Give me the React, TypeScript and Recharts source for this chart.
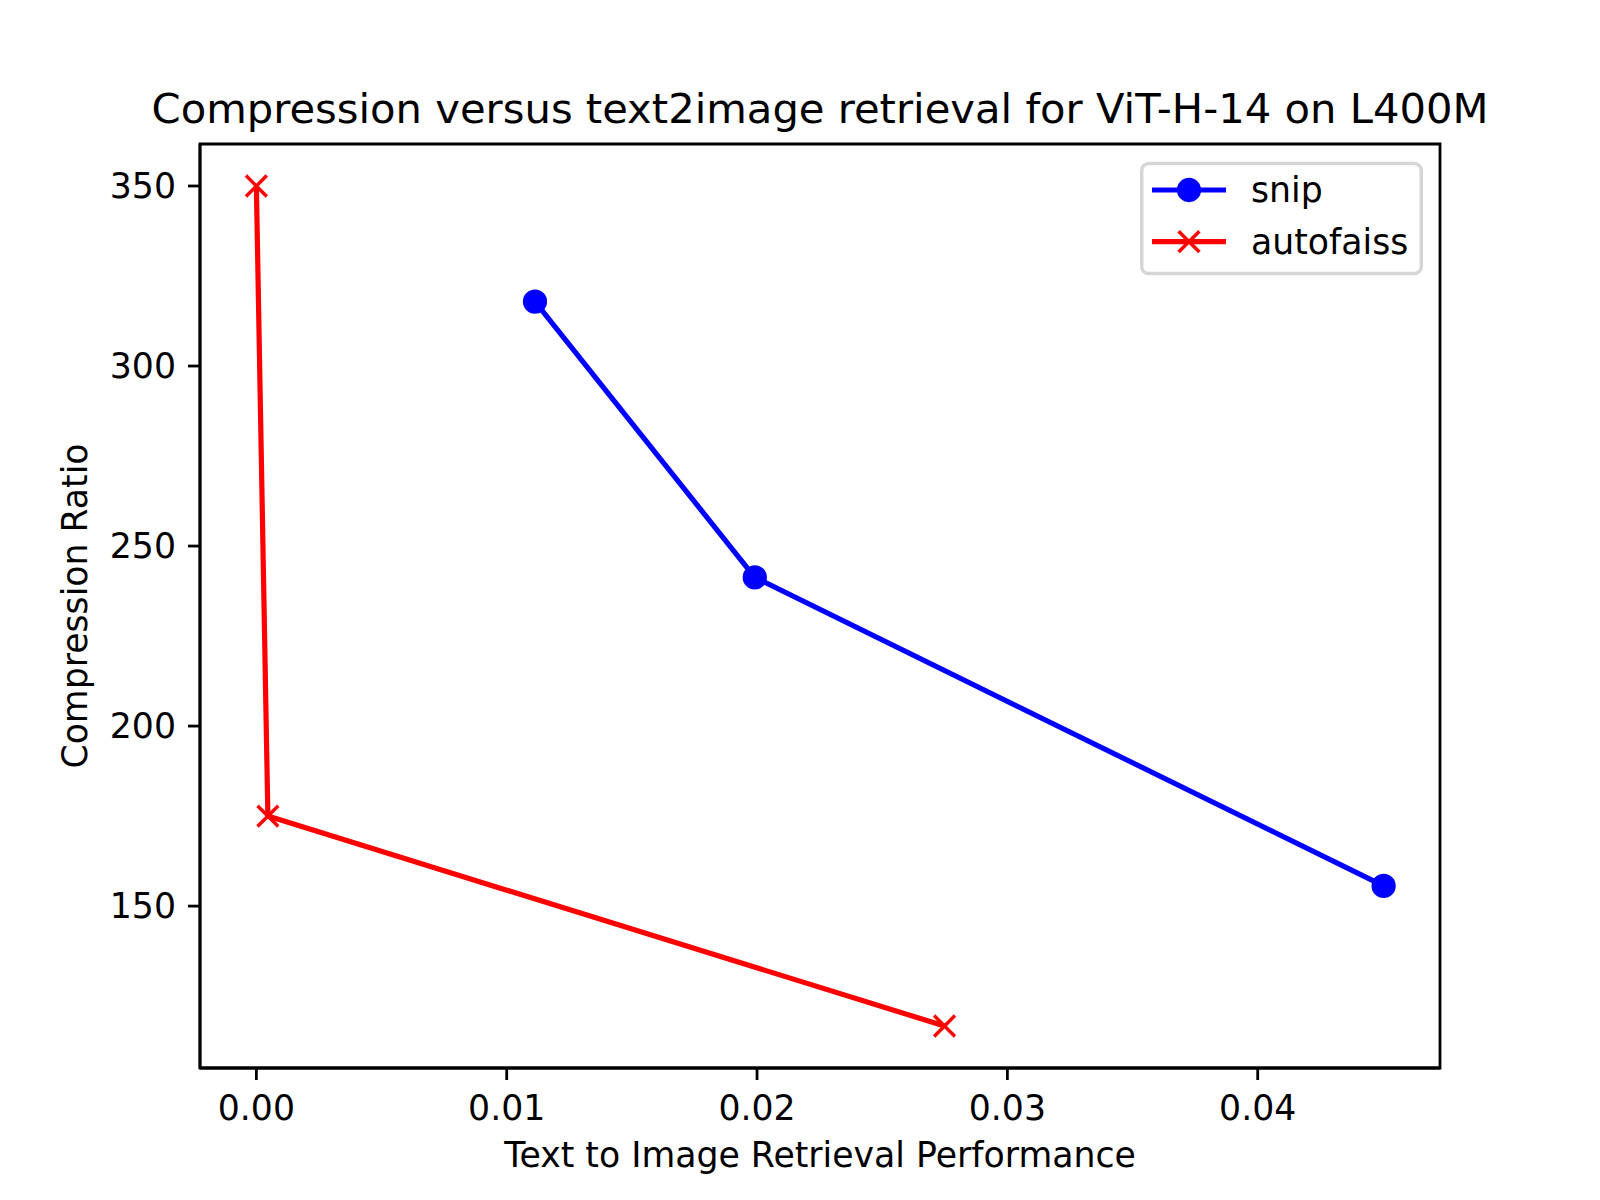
import React from 'react';
import { ScatterChart, Scatter, XAxis, YAxis, ReferenceArea } from 'recharts';

// values
const snipX = [0.01113, 0.01991, 0.04503];
const snipY = [317.9, 241.3, 155.6];
const autofaissX = [0.0, 0.00046, 0.02749];
const autofaissY = [350, 175, 116.7];

const xTicks = [0, 0.01, 0.02, 0.03, 0.04];
const yTicks = [150, 200, 250, 300, 350];

const FONT = '"DejaVu Sans", sans-serif';
const BLUE = '#0000ff';
const RED = '#ff0000';

const snipData = snipX.map((x, i) => ({ x, y: snipY[i] }));
const autofaissData = autofaissX.map((x, i) => ({ x, y: autofaissY[i] }));

// matplotlib style 5% auto margins
const pad = (vals: number[]) => {
  const lo = Math.min(...vals);
  const hi = Math.max(...vals);
  const m = (hi - lo) * 0.05;
  return [lo - m, hi + m] as [number, number];
};
const xDomain = pad([...snipX, ...autofaissX]);
const yDomain = pad([...snipY, ...autofaissY]);

const Dot = (props: any) => {
  const { cx, cy } = props;
  if (cx == null || cy == null) return null;
  return <circle cx={cx} cy={cy} r={10.4} fill={BLUE} stroke={BLUE} strokeWidth={3.47} />;
};

const Cross = (props: any) => {
  const { cx, cy } = props;
  if (cx == null || cy == null) return null;
  const s = 10.4;
  return (
    <g stroke={RED} strokeWidth={3.47}>
      <line x1={cx - s} y1={cy - s} x2={cx + s} y2={cy + s} />
      <line x1={cx - s} y1={cy + s} x2={cx + s} y2={cy - s} />
    </g>
  );
};

const tickStyle = { fontSize: 34.7, fill: '#000', fontFamily: FONT };

export default function App() {
  return (
    <div style={{ position: 'absolute', left: 0, top: 0, width: 1600, height: 1200, background: '#fff' }}>
      <ScatterChart
        width={1600}
        height={1200}
        margin={{ top: 144, right: 160, bottom: 72, left: 80 }}
      >
        <XAxis
          type="number"
          dataKey="x"
          domain={xDomain}
          allowDataOverflow
          ticks={xTicks}
          tickFormatter={(v: number) => v.toFixed(2)}
          height={60}
          tick={tickStyle}
          tickSize={12}
          tickMargin={15}
          axisLine={{ stroke: '#000', strokeWidth: 2.8 }}
          tickLine={{ stroke: '#000', strokeWidth: 2.8 }}
        />
        <YAxis
          type="number"
          dataKey="y"
          domain={yDomain}
          allowDataOverflow
          ticks={yTicks}
          width={120}
          tick={tickStyle}
          tickSize={12}
          tickMargin={12}
          axisLine={{ stroke: '#000', strokeWidth: 2.8 }}
          tickLine={{ stroke: '#000', strokeWidth: 2.8 }}
        />
        <ReferenceArea
          x1={xDomain[0]}
          x2={xDomain[1]}
          y1={yDomain[0]}
          y2={yDomain[1]}
          fill="none"
          fillOpacity={0}
          stroke="#000"
          strokeWidth={2.8}
        />
        <Scatter
          name="snip"
          data={snipData}
          fill={BLUE}
          line={{ stroke: BLUE, strokeWidth: 5.2, strokeLinejoin: 'round' }}
          lineType="joint"
          shape={Dot}
          isAnimationActive={false}
        />
        <Scatter
          name="autofaiss"
          data={autofaissData}
          fill={RED}
          line={{ stroke: RED, strokeWidth: 5.2, strokeLinejoin: 'round' }}
          lineType="joint"
          shape={Cross}
          isAnimationActive={false}
        />
      </ScatterChart>

      <svg
        width={1600}
        height={1200}
        style={{ position: 'absolute', left: 0, top: 0, pointerEvents: 'none' }}
        fontFamily={FONT}
      >
        <text x={820} y={123} fontSize={41.7} textAnchor="middle" fill="#000">
          Compression versus text2image retrieval for ViT-H-14 on L400M
        </text>
        <text x={820} y={1167} fontSize={34.7} textAnchor="middle" fill="#000">
          Text to Image Retrieval Performance
        </text>
        <text
          x={0}
          y={0}
          fontSize={34.7}
          textAnchor="middle"
          fill="#000"
          transform="translate(87,606) rotate(-90)"
        >
          Compression Ratio
        </text>

        {/* legend */}
        <rect x={1141.7} y={163.5} width={279.6} height={110} rx={7} fill="#fff" fillOpacity={0.8} stroke="#d6d6d6" strokeWidth={3.47} />
        <line x1={1152} y1={190} x2={1226} y2={190} stroke={BLUE} strokeWidth={5.2} />
        <circle cx={1189} cy={190} r={10.4} fill={BLUE} stroke={BLUE} strokeWidth={3.47} />
        <text x={1251} y={202} fontSize={34.7} fill="#000">snip</text>
        <line x1={1152} y1={241.7} x2={1226} y2={241.7} stroke={RED} strokeWidth={5.2} />
        <g stroke={RED} strokeWidth={3.47}>
          <line x1={1178.6} y1={231.3} x2={1199.4} y2={252.1} />
          <line x1={1178.6} y1={252.1} x2={1199.4} y2={231.3} />
        </g>
        <text x={1251} y={253.5} fontSize={34.7} fill="#000">autofaiss</text>
      </svg>
    </div>
  );
}
